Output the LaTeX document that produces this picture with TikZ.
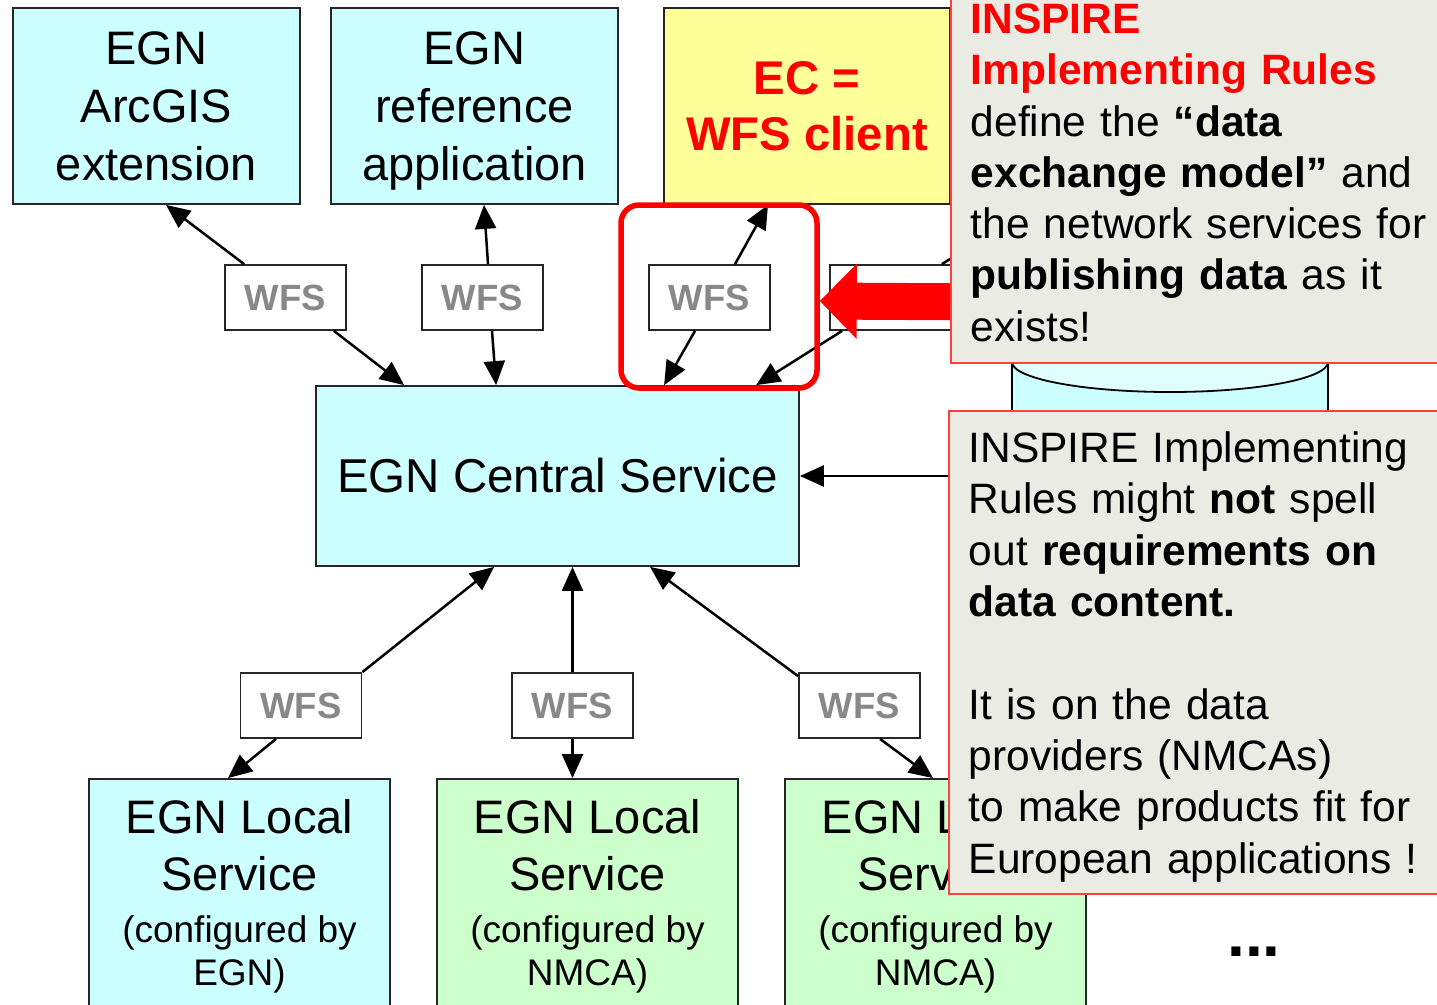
\documentclass[tikz,border=0pt]{standalone}
\usepackage{fontspec}
\setmainfont{Liberation Sans}
\usetikzlibrary{arrows.meta}
\definecolor{egncyan}{RGB}{204,255,255}
\definecolor{egntop}{RGB}{224,255,255}
\definecolor{nmcagreen}{RGB}{204,255,204}
\definecolor{ecyellow}{RGB}{255,255,153}
\definecolor{notegray}{RGB}{234,236,227}
\definecolor{noteline}{RGB}{255,64,64}
\definecolor{wfsgray}{RGB}{136,136,136}
\begin{document}
\begin{tikzpicture}
[x=1pt,y=-1pt,%
  box/.style={draw=black!85,line width=1.8pt,inner sep=0pt,align=center},%
  svc/.style={box,fill=egncyan},%
  nmca/.style={box,fill=nmcagreen},%
  top/.style={minimum width=287pt,minimum height=196pt,font=\fontsize{47}{58}\selectfont},%
  local/.style={minimum width=301pt,minimum height=234pt,font=\fontsize{47}{57}\selectfont},%
  wfs/.style={box,fill=white,minimum width=121pt,minimum height=65pt,text=wfsgray,%
    font=\bfseries\fontsize{36.5}{44}\selectfont},%
  conn/.style={line width=2.5pt,-{Triangle[length=24pt,width=21pt]}},%
  note/.style={draw=noteline,line width=1.5pt,fill=notegray,inner xsep=20pt,inner ysep=0pt,%
    text width=470pt,align=left,anchor=north west,font=\fontsize{42.5}{51.3}\selectfont},%
  focusbox/.style={draw=red,line width=5.5pt,rounded corners=18pt,%
    minimum width=196pt,minimum height=183pt},%
  bigarrow/.style={red,line width=37pt,-{Triangle[length=37pt,width=73pt]}}]
\useasboundingbox (0,0) rectangle (1437,1004);
\clip (0,0) rectangle (1437,1004);
\node[svc,top] (ext) at (156.5,106) {EGN\\ArcGIS\\extension};
\node[svc,top,text depth=0pt] (refapp) at (474.5,106) {EGN\\reference\\application};
\node[box,fill=ecyellow,minimum width=286pt,minimum height=196pt,text=red,%
  font=\bfseries\fontsize{47.3}{56}\selectfont] (ecc) at (807,106) {EC =\\WFS client};
\node[svc,minimum width=483pt,minimum height=180pt,font=\fontsize{47.5}{57}\selectfont]
  (central) at (557.5,476) {EGN Central Service};
\node[wfs] (wfsA) at (285.5,297.5) {WFS};
\node[wfs] (wfsB) at (482.5,297.5) {WFS};
\node[wfs] (wfsC) at (709.5,297.5) {WFS};
\node[wfs] (wfsD) at (890.5,297.5) {WFS};
\node[wfs] (wfsE) at (301,705.5) {WFS};
\node[wfs] (wfsF) at (572.5,705.5) {WFS};
\node[wfs] (wfsG) at (859.5,705.5) {WFS};
\node[svc,local] (locA) at (239.5,896)
  {EGN Local\\Service\\[-5pt]{\fontsize{37}{43}\selectfont (configured by}\\[-14pt]{\fontsize{37}{43}\selectfont EGN)}};
\node[nmca,local] (locB) at (587.5,896)
  {EGN Local\\Service\\[-5pt]{\fontsize{37}{43}\selectfont (configured by}\\[-14pt]{\fontsize{37}{43}\selectfont NMCA)}};
\node[nmca,local] (locC) at (935.5,896)
  {EGN Local\\Service\\[-5pt]{\fontsize{37}{43}\selectfont (configured by}\\[-14pt]{\fontsize{37}{43}\selectfont NMCA)}};
\fill[egncyan] (1012,362) rectangle (1328,700);
\draw[line width=1.8pt] (1012,362) -- (1012,700) (1328,362) -- (1328,700);
\draw[line width=1.8pt,fill=egntop] (1170,362) ellipse [x radius=158,y radius=30];
\coordinate (storeW) at (1012,476);
\coordinate (hidN) at (1000,228);
\draw[conn] ([xshift=20pt]wfsA.north west) -- ([xshift=9.5pt]ext.south);
\draw[conn] ([xshift=-13pt]wfsA.south east) -- ([xshift=89pt]central.north west);
\draw[conn] ([xshift=5.5pt]wfsB.north) -- ([xshift=9.5pt]refapp.south);
\draw[conn] ([xshift=9.5pt]wfsB.south) -- ([xshift=181pt]central.north west);
\draw[conn] ([xshift=25.5pt]wfsC.north) -- ([xshift=-39pt]ecc.south);
\draw[conn] ([xshift=-14.5pt]wfsC.south) -- ([xshift=349pt]central.north west);
\draw[conn] ([xshift=13pt]wfsD.south west) -- ([xshift=441pt]central.north west);
\draw[line width=2.5pt] ([xshift=-10pt]wfsD.north east) -- (hidN);
\draw[conn] (storeW) -- (central.east);
\draw[conn] (wfsE.north east) -- ([xshift=179pt]central.south west);
\draw[conn] ([xshift=-25pt]wfsE.south) -- ([xshift=-11.5pt]locA.north);
\draw[conn] (wfsF.north) -- (wfsF.north |- central.south);
\draw[conn] (wfsF.south) -- (wfsF.south |- locB.north);
\draw[conn] ([yshift=-4pt]wfsG.north west) -- ([xshift=335pt]central.south west);
\draw[conn] ([xshift=20.5pt]wfsG.south) -- ([xshift=-2.5pt]locC.north);
\node[focusbox] (focus) at (719,296.5) {};
\node[note,minimum height=380pt] (note1) at (950,-18)
  {{\color{red}\bfseries INSPIRE}\\{\color{red}\bfseries Implementing Rules}\\define the \textbf{“data}\\%
   \textbf{exchange model”} and\\the network services for\\\textbf{publishing data} as it\\exists!};
\node[note,minimum height=483pt] (note2) at (948,410)
  {\rule{0pt}{40pt}INSPIRE Implementing\\Rules might \textbf{not} spell\\out \textbf{requirements on}\\\textbf{data content.}\\[51.3pt]%
   It is on the data\\providers (NMCAs)\\to make products fit for\\European applications !};
\draw[bigarrow] ([yshift=-129pt]note1.west) -- ([yshift=-4.5pt]focus.east);
\node[font=\bfseries\fontsize{64}{70}\selectfont] (more) at (1254,952) {...};
\end{tikzpicture}
\end{document}
